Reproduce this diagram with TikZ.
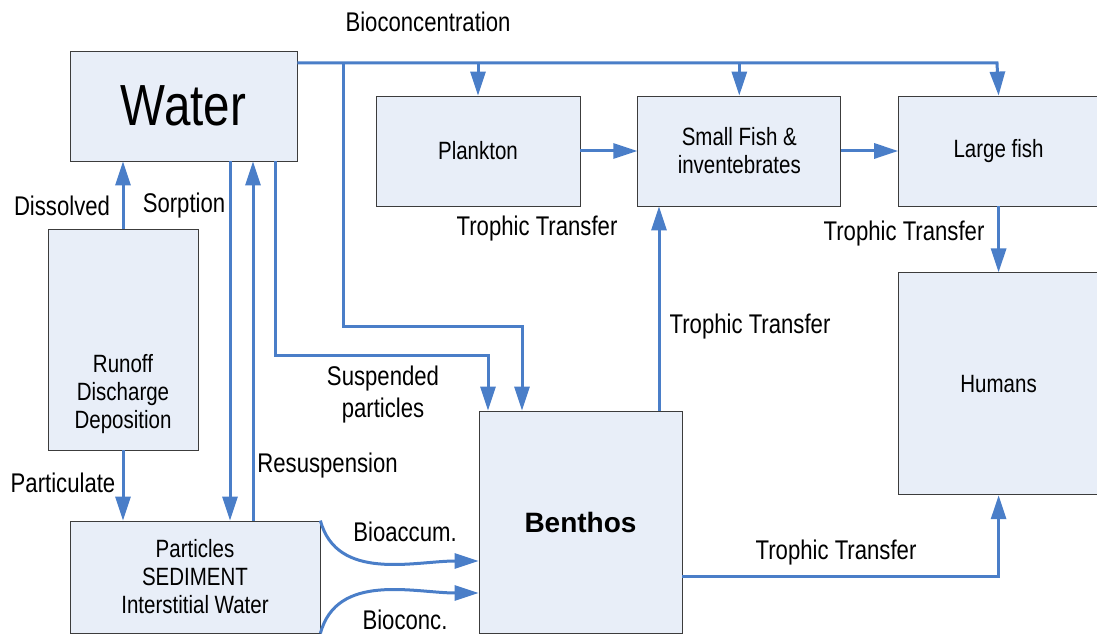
\documentclass[tikz,border=0pt]{standalone}
\usepackage{fontspec}
\setmainfont[FakeStretch=0.82]{Liberation Sans}
\newfontfamily\widefont{Liberation Sans}
\usetikzlibrary{arrows.meta,positioning}
\definecolor{flow}{HTML}{4A7EC8}
\definecolor{boxfill}{HTML}{E8EEF8}
\definecolor{boxline}{HTML}{3C3C3C}
\tikzset{
    %Define standard arrow tip
    >={Triangle[length=12pt,width=7.5pt]},
    %Define style for boxes
    compartment/.style={
        rectangle,
        draw=boxline, thin,
        fill=boxfill,
        align=center,
        font=\fontsize{12.5}{14}\selectfont,
        inner sep=0pt
    },
    % Define arrow style
    pipe/.style={
        ->,
        draw=flow,
        line width=1.5pt
    },
    lbl/.style={
        font=\fontsize{13.5}{16}\selectfont,
        align=center,
        inner sep=0pt
    }
}
\begin{document}
\begin{tikzpicture}[x=0.5pt,y=-0.5pt,node distance=28.5pt]
		\useasboundingbox (0,0) rectangle (1097,635);
		%nodes
		\node[compartment, minimum width=113.5pt, minimum height=55pt, font=\fontsize{29}{32}\selectfont](water) at (183.5,106){Water};
		\node[compartment, minimum width=102pt, minimum height=55pt](plankton) at (478,151){Plankton};
		\node[compartment, minimum width=101.5pt, minimum height=55pt, right=of plankton](smallfish){Small Fish \&\\inventebrates};
		\node[compartment, minimum width=100pt, minimum height=55pt, right=of smallfish](largefish){Large fish};
		\node[compartment, minimum width=100pt, minimum height=111pt, below=33pt of largefish](humans){Humans};
		\node[compartment, minimum width=75pt, minimum height=110.5pt,
		  label={[compartment, draw=none, fill=none, yshift=-27.5pt]center:Runoff\\Discharge\\Deposition}](runoff) at (123,339.5){};
		\node[compartment, minimum width=125pt, minimum height=56pt](particles) at (195,577){Particles\\SEDIMENT\\Interstitial Water};
		\node[compartment, minimum width=101.5pt, minimum height=111pt, font=\widefont\fontsize{14}{18}\selectfont\bfseries](benthos) at (580.5,522){Benthos};
		%labels
		\node[lbl](bioconcentration) at (428,22){Bioconcentration};
		\node[lbl](dissolved) at (62,206){Dissolved};
		\node[lbl](sorption) at (184,206){Sorption};
		\node[lbl](particulate) at (63,483){Particulate};
		\node[lbl, anchor=west](resuspension) at (257,466){Resuspension};
		\node[lbl](suspended) at (383,395){Suspended\\particles};
		\node[lbl](bioaccum) at (405,532){Bioaccum.};
		\node[lbl, anchor=base](bioconc) at (405,629){Bioconc.};
		\node[lbl](trophic1) at (537,229){Trophic Transfer};
		\node[lbl](trophic2) at (904,234){Trophic Transfer};
		\node[lbl](trophic3) at (750,327){Trophic Transfer};
		\node[lbl](trophic4) at (836,553){Trophic Transfer};
		%bends
		\coordinate (bus) at (997,63);
		\coordinate (drop) at (343,327);
		\coordinate (susp) at (275,356);
		\coordinate (sorp) at (230,0);
		\coordinate (resus) at (253,0);
		\coordinate (climb) at (659,0);
		\coordinate (base) at (0,576);
		%edges
		\draw[pipe] (water.north east |- bus) -- (bus) -- (largefish.north);
		\draw[pipe] (plankton.north |- bus) -- (plankton.north);
		\draw[pipe] (smallfish.north |- bus) -- (smallfish.north);
		\draw[pipe] (drop |- bus) -- (drop) -| ([xshift=-29.25pt]benthos.north);
		\draw[pipe] (water.south -| susp) -- (susp) -| ([xshift=-46.25pt]benthos.north);
		\draw[pipe] (water.south -| sorp) -- (particles.north -| sorp);
		\draw[pipe] (particles.north -| resus) -- (water.south -| resus);
		\draw[pipe] (runoff.north) -- (water.south -| runoff.north);
		\draw[pipe] (runoff.south) -- (particles.north -| runoff.south);
		\draw[pipe] (plankton.east) -- (smallfish.west);
		\draw[pipe] (smallfish.east) -- (largefish.west);
		\draw[pipe] (largefish.south) -- (humans.north);
		\draw[pipe] (benthos.north -| climb) -- (smallfish.south -| climb);
		\draw[pipe] (benthos.east |- base) -| (humans.south);
		\draw[pipe] (particles.north east) to[out=-75,in=180] ([yshift=-19.5pt]benthos.west);
		\draw[pipe] (particles.south east) to[out=75,in=180] ([yshift=-35.5pt]benthos.west);
\end{tikzpicture}
\end{document}
